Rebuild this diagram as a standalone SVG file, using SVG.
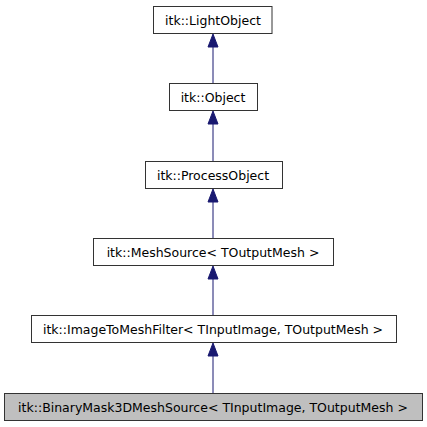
<svg xmlns="http://www.w3.org/2000/svg" width="427" height="427" viewBox="0 0 427 427">
<style>
.n rect{fill:#ffffff;stroke:#333333;stroke-width:1}
.n.cur rect{fill:#bfbfbf}
.n text{font-family:"DejaVu Sans",sans-serif;font-size:12.5px;text-anchor:middle;fill:#000000}
.e line{stroke:#191970;stroke-width:1}
.e polygon{fill:#191970;stroke:#191970;stroke-width:1}
</style>
<rect width="427" height="427" fill="#ffffff"/>
<g id="connectors" class="e">
<line x1="213" y1="47" x2="213" y2="84"/><polygon points="213,34 208,47 218,47"/>
<line x1="213" y1="124" x2="213" y2="162"/><polygon points="213,111 208,124 218,124"/>
<line x1="213" y1="202" x2="213" y2="239"/><polygon points="213,189 208,202 218,202"/>
<line x1="213" y1="279" x2="213" y2="316"/><polygon points="213,266 208,279 218,279"/>
<line x1="213" y1="356" x2="213" y2="394"/><polygon points="213,343 208,356 218,356"/>
</g>
<g id="node_lightobject" class="n"><rect x="153.5" y="6.5" width="118.5" height="27"/><text x="213" y="24.5">itk::LightObject</text></g>
<g id="node_object" class="n"><rect x="169.5" y="83.5" width="88" height="27"/><text x="213" y="101.5">itk::Object</text></g>
<g id="node_processobject" class="n"><rect x="145.5" y="161.5" width="137" height="27"/><text x="213" y="179.5">itk::ProcessObject</text></g>
<g id="node_meshsource" class="n"><rect x="93.5" y="238.5" width="240" height="27"/><text x="213" y="256.5">itk::MeshSource&lt; TOutputMesh &gt;</text></g>
<g id="node_imagetomeshfilter" class="n"><rect x="31.5" y="315.5" width="365" height="27"/><text x="213" y="333.5">itk::ImageToMeshFilter&lt; TInputImage, TOutputMesh &gt;</text></g>
<g id="node_binarymask" class="n cur"><rect x="4.5" y="393.5" width="418" height="27"/><text x="213" y="411.5">itk::BinaryMask3DMeshSource&lt; TInputImage, TOutputMesh &gt;</text></g>
</svg>
